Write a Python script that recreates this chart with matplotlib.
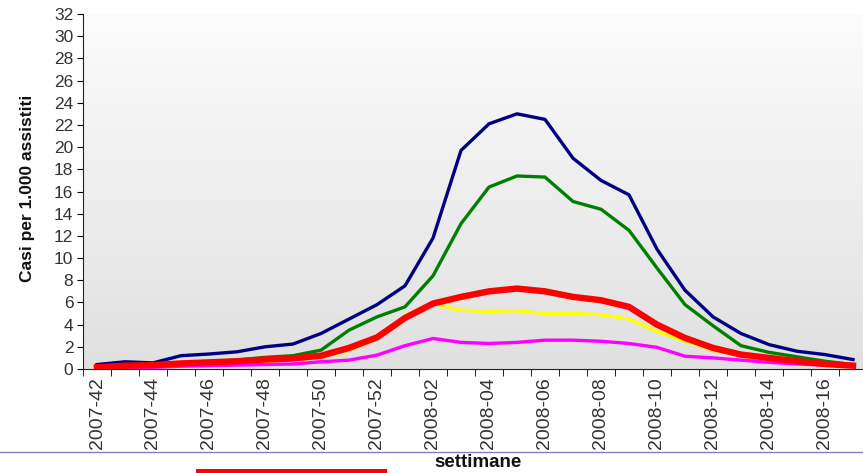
import matplotlib
matplotlib.use('Agg')
import matplotlib.pyplot as plt
import numpy as np
from matplotlib.lines import Line2D
from matplotlib.patches import Rectangle

# weeks 2007-42 .. 2008-17
weeks = ['2007-%02d' % w for w in range(42, 53)] + ['2008-%02d' % w for w in range(1, 18)]

blue = [0.4, 0.65, 0.55, 1.2, 1.35, 1.55, 2.0, 2.25, 3.2, 4.5, 5.8, 7.5, 11.8, 19.7,
        22.1, 23.0, 22.5, 19.0, 17.0, 15.7, 10.8, 7.1, 4.7, 3.2, 2.2, 1.6, 1.3, 0.85]
green = [0.15, 0.3, 0.35, 0.5, 0.65, 0.8, 1.05, 1.2, 1.7, 3.5, 4.7, 5.6, 8.4, 13.1,
         16.4, 17.4, 17.3, 15.1, 14.4, 12.5, 9.1, 5.8, 3.9, 2.1, 1.5, 1.1, 0.7, 0.4]
yellow = [0.1, 0.2, 0.3, 0.4, 0.5, 0.6, 0.7, 0.8, 1.05, 1.7, 2.7, 4.8, 5.9, 5.3,
          5.2, 5.25, 5.0, 5.0, 4.9, 4.5, 3.4, 2.5, 1.7, 1.2, 0.9, 0.6, 0.4, 0.25]
magenta = [0.05, 0.1, 0.15, 0.25, 0.3, 0.35, 0.4, 0.45, 0.65, 0.8, 1.25, 2.1, 2.75, 2.4,
           2.3, 2.4, 2.6, 2.6, 2.5, 2.3, 1.95, 1.15, 1.0, 0.8, 0.6, 0.45, 0.35, 0.25]
red = [0.15, 0.3, 0.35, 0.5, 0.6, 0.7, 0.85, 0.95, 1.2, 1.9, 2.85, 4.6, 5.9, 6.5,
       7.0, 7.25, 7.0, 6.5, 6.2, 5.6, 4.0, 2.8, 1.9, 1.3, 1.0, 0.7, 0.45, 0.3]

plt.rcParams['font.family'] = ['Liberation Sans', 'DejaVu Sans']

W, H = 863, 473
fig = plt.figure(figsize=(W / 100, H / 100), dpi=100)
ax = fig.add_axes([83 / W, 104 / H, 784 / W, 355 / H])

# gradient background of the plot area
grad = np.linspace(0, 1, 256).reshape(-1, 1)
ax.imshow(grad, extent=[0, 1, 0, 1], transform=ax.transAxes, aspect='auto',
          cmap=matplotlib.colors.LinearSegmentedColormap.from_list('g', ['#e0e0e0', '#fcfcfc']),
          origin='lower', zorder=0)

x = np.arange(len(weeks))
ax.plot(x, blue, color='#000080', lw=2.4, solid_joinstyle='round', zorder=3)
ax.plot(x, green, color='#008000', lw=2.4, solid_joinstyle='round', zorder=3)
ax.plot(x, yellow, color='#ffff00', lw=2.4, solid_joinstyle='round', zorder=3)
ax.plot(x, magenta, color='#ff00ff', lw=2.4, solid_joinstyle='round', zorder=3)
ax.plot(x, red, color='#ff0000', lw=4.6, solid_joinstyle='round', zorder=4)

ax.set_xlim(-0.5, len(weeks) - 0.5)
ax.set_ylim(0, 32)
ax.set_yticks(range(0, 33, 2))
ax.tick_params(axis='y', labelsize=12.5, labelcolor='#333333', length=4, direction='out', pad=3)

ax.set_xticks(x[::2])
ax.set_xticklabels(weeks[::2], rotation=90, fontsize=14, color='#333333')
ax.set_xticks(np.arange(len(weeks)) - 0.5, minor=True)
ax.tick_params(axis='x', which='major', length=0, pad=6)
ax.tick_params(axis='x', which='minor', length=5, direction='out')

for s in ['top', 'right']:
    ax.spines[s].set_visible(False)
ax.spines['left'].set_color('#222222')
ax.spines['bottom'].set_color('#222222')

fig.text(28 / W, 1 - 188 / H, 'Casi per 1.000 assistiti', rotation=90, fontsize=12.5,
         fontweight='bold', ha='center', va='center', color='#111111')
fig.text(478 / W, 1 - 462 / H, 'settimane', fontsize=13.5, fontweight='bold',
         ha='center', va='center', color='#111111')

# slide decorations below the chart
fig.add_artist(Line2D([0, 1], [1 - 452 / H, 1 - 452 / H], color='#8080c8', lw=1))
fig.add_artist(Rectangle((196 / W, 0), 191 / W, 4 / H, color='#ff0000', lw=0))

fig.savefig('out.png', dpi=100)
